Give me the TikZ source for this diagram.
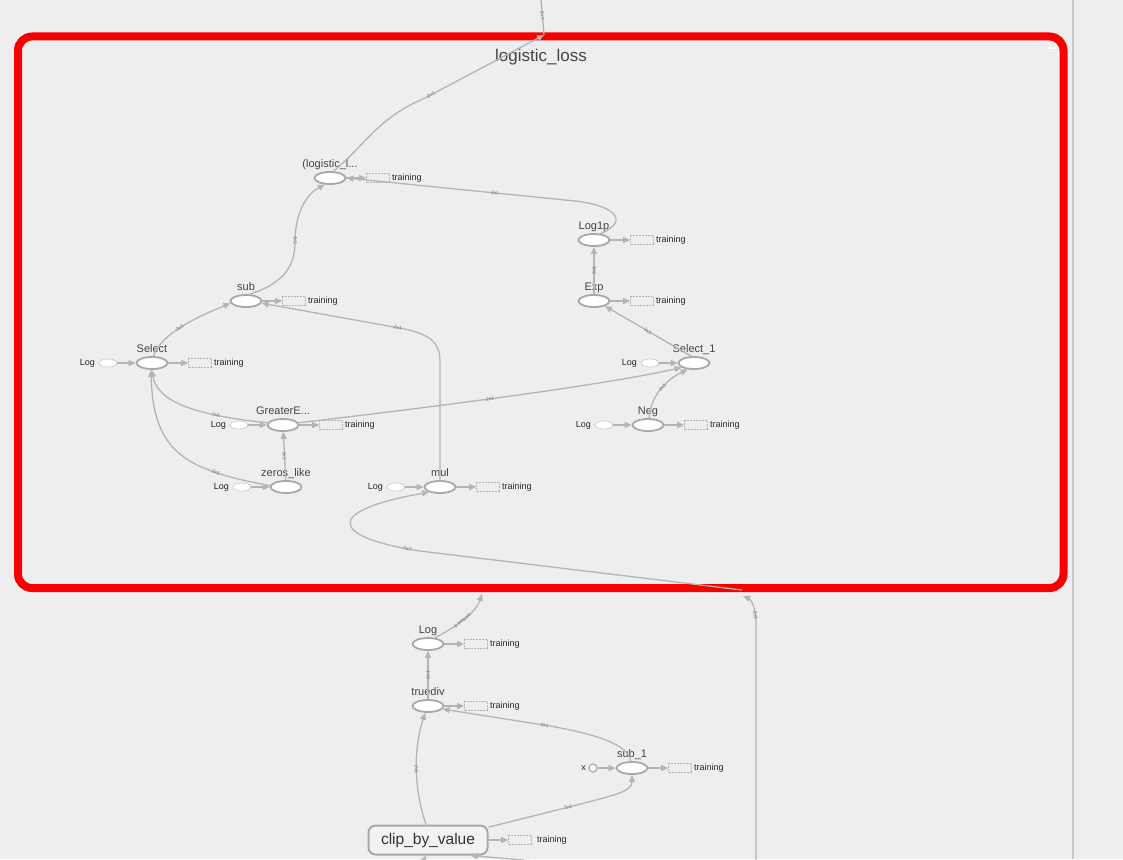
\documentclass[tikz,border=0pt]{standalone}
\usepackage{fontspec}
\setmainfont{Liberation Sans}
\usetikzlibrary{shapes.geometric,arrows.meta}
\definecolor{bg}{HTML}{EEEEEE}
\definecolor{edgec}{HTML}{B4B4B4}
\definecolor{nodec}{HTML}{A8A8A8}
\definecolor{txt}{HTML}{444444}
\definecolor{redc}{HTML}{F70000}
\definecolor{panel}{HTML}{C8C8C8}
\newcommand\opb[4]{%
  \node[op] (#1) at (#2,#3) {};
  \node[oplbl,anchor=base] (#1-l) at (#2,#3-11) {#4};
}
\newcommand\opn[4]{%
  \opb{#1}{#2}{#3}{#4}
  \node[trbox] (#1-tb) at (#2+48,#3) {};
  \node[trtxt,anchor=west] (#1-tt) at (#2+62,#3) {training};
  \draw[edge] (#1) -- (#1-tb);
}
\newcommand\logn[3]{%
  \node[logell] (#1-le) at (#2-44,#3) {};
  \node[trtxt,anchor=east] (#1-lt) at (#2-57,#3) {Log};
  \draw[edge] (#1-le) -- (#1);
}
\begin{document}
\begin{tikzpicture}[x=1pt,y=-1pt,
  op/.style={ellipse,draw=nodec,line width=1.8pt,fill=white,minimum width=31pt,minimum height=12pt,inner sep=0pt},
  oplbl/.style={text=txt,font=\fontsize{11}{11}\selectfont,inner sep=0pt},
  trbox/.style={draw=edgec,dash pattern=on 2pt off 1pt,line width=0.7pt,minimum width=23pt,minimum height=9pt,inner sep=0pt},
  trtxt/.style={text=black!85,font=\fontsize{9}{9}\selectfont,inner sep=0pt},
  logell/.style={ellipse,draw=edgec,dash pattern=on 1.5pt off 1pt,line width=0.7pt,fill=white,minimum width=18pt,minimum height=8pt,inner sep=0pt},
  edge/.style={draw=edgec,line width=1.3pt,-{Triangle[length=7pt,width=6pt]}},
  pedge/.style={draw=edgec,line width=1.3pt},
  elab/.style={sloped,font=\fontsize{5}{5}\selectfont,text=black!55,inner sep=0.5pt}
]
\useasboundingbox (0,0) rectangle (1123,859);
\fill[bg] (0,0) rectangle (1123,859);
% right panel line
\draw[panel,line width=1.5pt] (1073,0) -- (1073,859);
% red group box
\draw[redc,line width=8pt,rounded corners=14pt] (18,36.5) rectangle (1063.5,588);
\draw[white,line width=2pt] (1047,48) -- (1056,48);
\node[text=txt,font=\fontsize{17}{17}\selectfont,inner sep=0pt] (title) at (541,57) {logistic\_loss};

% op nodes in the group
\opn{lg}{330}{178}{(logistic\_l...}
\opn{lp}{594}{240}{Log1p}
\opn{ex}{594}{301}{Exp}
\opn{sub}{246}{301}{sub}
\opn{sel}{152}{363}{Select}
\logn{sel}{152}{363}
\opb{s1}{694}{363}{Select\_1}
\logn{s1}{694}{363}
\opn{ge}{283}{425}{GreaterE...}
\logn{ge}{283}{425}
\opn{neg}{648}{425}{Neg}
\logn{neg}{648}{425}
\opb{zl}{286}{487}{zeros\_like}
\logn{zl}{286}{487}
\opn{mul}{440}{487}{mul}
\logn{mul}{440}{487}

% lower nodes
\opn{lg2}{428}{644}{Log}
\opn{td}{428}{706}{truediv}
\opn{sb1}{632}{768}{sub\_1}
\node[circle,draw=nodec,line width=1.2pt,fill=white,minimum size=8pt,inner sep=0pt] (xc) at (593,768) {};
\node[trtxt,anchor=east] (xt) at (586,768) {x};
\draw[edge] (xc) -- (sb1);
\node[draw=nodec,line width=2pt,rounded corners=7pt,fill=black!5,minimum width=119pt,minimum height=29pt,inner sep=0pt,text=black!80,font=\fontsize{15.5}{15.5}\selectfont] (cbv) at (428,840) {clip\_by\_value};
\node[trbox] (cbv-tb) at (520,840) {};
\node[trtxt,anchor=west] (cbv-tt) at (537,840) {training};
\draw[edge] (cbv) -- (cbv-tb);

% coordinates for free ends
\coordinate (topin) at (541,0);
\coordinate (topc) at (544,35);
\coordinate (inr) at (742,590);
\coordinate (boxin) at (743,596);
\coordinate (lbin) at (482,594);
\coordinate (bot1) at (756,862);
\coordinate (bot2) at (545,862);
\coordinate (bot3) at (421,866);

% edges
\draw[pedge] (topin) -- (topc) node[elab,pos=0.45] {2x?};
\draw[edge] (lg.62) .. controls (368,142) and (378,118) .. (425,98) -- (topc) node[elab,pos=0.05] {2x1};
\draw[edge] (lp.45) .. controls (632,220) and (612,205) .. (575,201) -- (lg.east) node[elab,pos=0.35] {2x1};
\draw[edge] (ex) -- (lp) node[elab,midway] {2x1};
\draw[edge] (s1.112) -- (ex.-25) node[elab,midway] {2x1};
\draw[edge] (neg.80) .. controls (650,400) and (662,382) .. (s1.225) node[elab,pos=0.58] {2x1};
\draw[edge] (ge.8) .. controls (390,412) and (590,388) .. (s1.200) node[elab,pos=0.5] {2x1};
\draw[edge] (ge.172) .. controls (205,416) and (158,405) .. (sel.268) node[elab,pos=0.3] {2x1};
\draw[edge] (zl) -- (ge) node[elab,midway] {2x1};
\draw[edge] (zl.175) .. controls (185,470) and (153,452) .. (sel.262) node[elab,pos=0.25] {2x1};
\draw[edge] (sel.78) .. controls (162,332) and (200,316) .. (sub.188) node[elab,pos=0.45] {2x1};
\draw[edge] (mul.north) -- (440,362) .. controls (440,342) and (430,335) .. (405,329) -- (sub.-8) node[elab,pos=0.05] {2x1};
\draw[edge] (sub.62) .. controls (288,282) and (295,262) .. (295,242) .. controls (295,215) and (305,195) .. (lg.232) node[elab,pos=0.02] {2x1};
\draw[edge] (inr) -- (420,551) .. controls (335,538) and (318,512) .. (mul.205) node[elab,pos=0.05] {2x?};
\draw[edge] (bot1) -- (756,622) .. controls (756,606) and (750,599) .. (boxin) node[elab,pos=0.15] {2x1};
\draw[edge] (lg2.42) .. controls (458,626) and (476,612) .. (lbin) node[elab,pos=0.45] {6 tensors};
\draw[edge] (td) -- (lg2) node[elab,midway] {2x1};
\draw[edge] (sb1.100) .. controls (628,745) and (600,735) .. (550,726) -- (td.-12) node[elab,pos=0.05] {2x1};
\draw[edge] (cbv.97) .. controls (414,790) and (413,750) .. (td.248) node[elab,pos=0.5] {2x1};
\draw[edge] (cbv.12) -- (565,808) .. controls (615,795) and (632,792) .. (sb1.south) node[elab,pos=0.02] {2x1};
\draw[edge] (bot2) -- (cbv.-20);
\draw[edge] (bot3) -- (cbv.263);
\end{tikzpicture}
\end{document}
